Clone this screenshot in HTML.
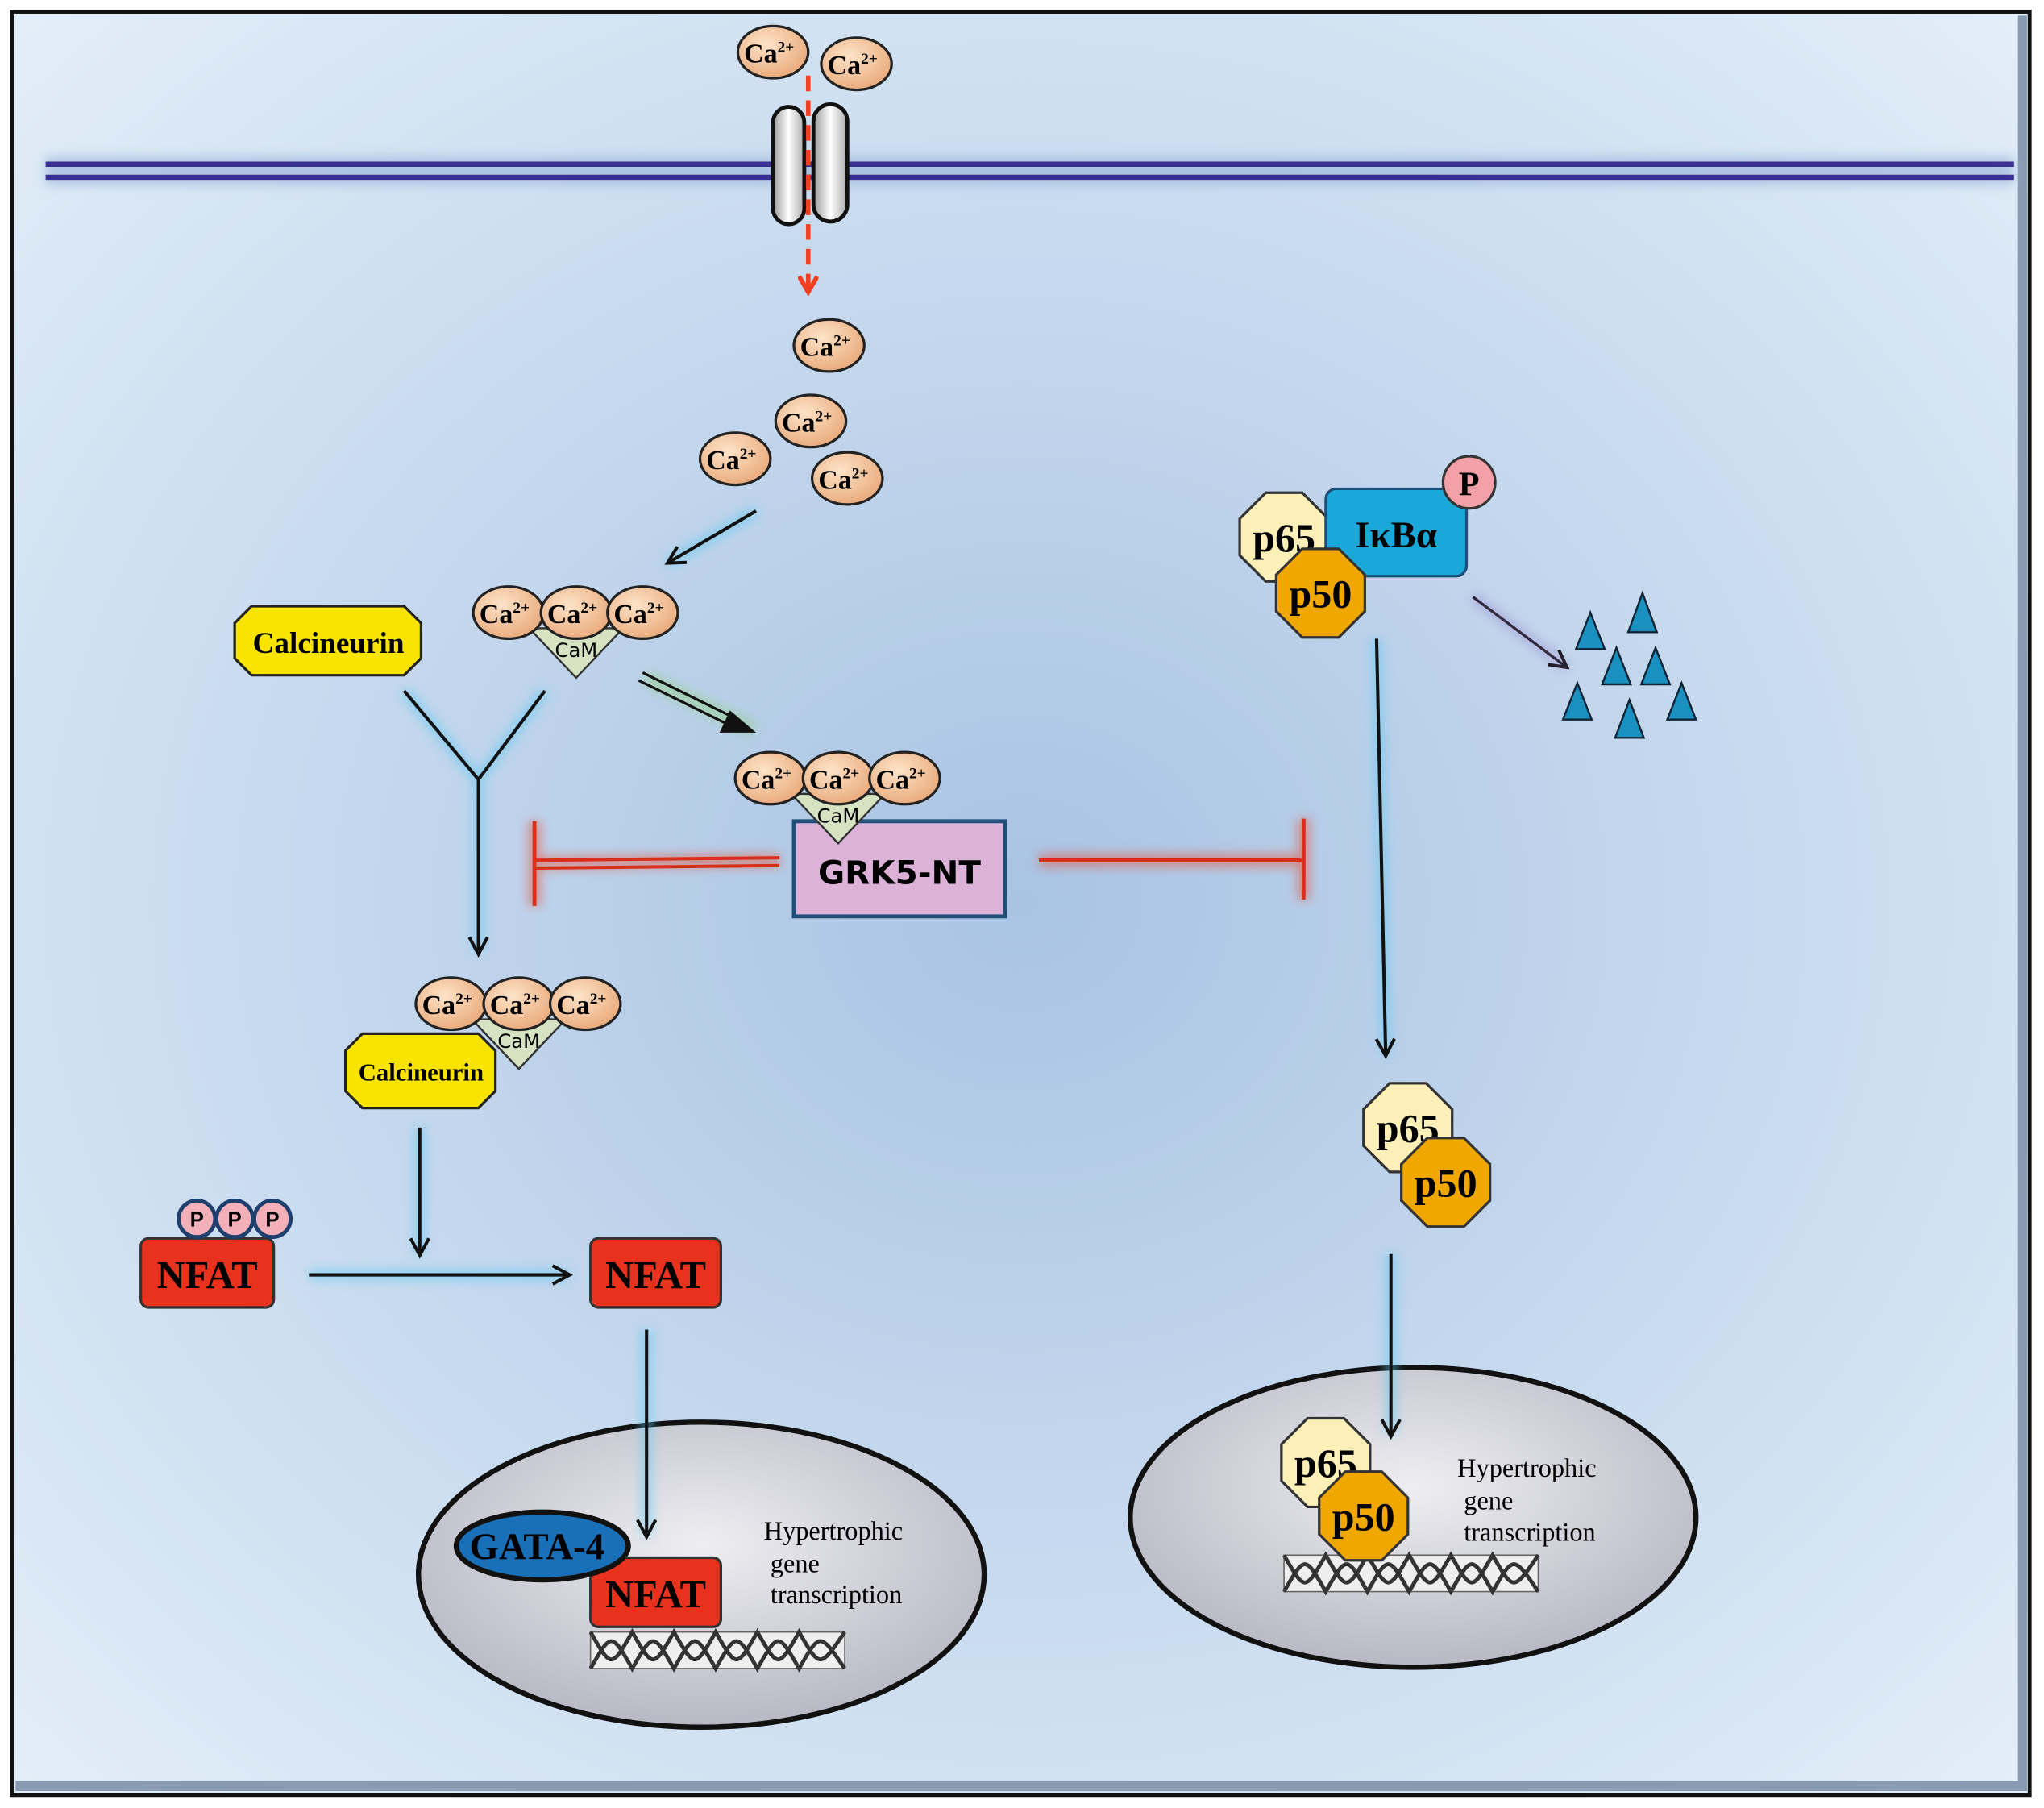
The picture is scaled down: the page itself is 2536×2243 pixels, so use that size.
<!DOCTYPE html>
<html><head><meta charset="utf-8"><style>html,body{margin:0;padding:0;background:#fff}svg{display:block}</style></head><body>
<svg width="2536" height="2243" viewBox="0 0 1568 1387" preserveAspectRatio="none" xmlns="http://www.w3.org/2000/svg">
<defs>
<radialGradient id="bg" cx="0.5" cy="0.5" r="0.7"><stop offset="0" stop-color="#a9c3e3"/><stop offset="1" stop-color="#e2eef8"/></radialGradient>
<radialGradient id="ca" cx="0.4" cy="0.35" r="0.7"><stop offset="0" stop-color="#fde3c8"/><stop offset="1" stop-color="#e8a878"/></radialGradient>
<radialGradient id="nuc" cx="0.5" cy="0.4" r="0.6"><stop offset="0" stop-color="#eeeef2"/><stop offset="1" stop-color="#b8b8c4"/></radialGradient>
<linearGradient id="cap" x1="0" x2="1"><stop offset="0" stop-color="#999"/><stop offset="0.5" stop-color="#fff"/><stop offset="1" stop-color="#aaa"/></linearGradient>
<filter id="glow" x="-50%" y="-50%" width="200%" height="200%"><feGaussianBlur stdDeviation="4"/></filter>
<marker id="ah" markerWidth="20" markerHeight="20" refX="14" refY="8" orient="auto" markerUnits="userSpaceOnUse"><path d="M1,1 L14,8 L1,15" fill="none" stroke="#111" stroke-width="2.5"/></marker>
<marker id="ahr" markerWidth="16" markerHeight="16" refX="13" refY="8" orient="auto" markerUnits="userSpaceOnUse"><path d="M1,1 L13,8 L1,15" fill="none" stroke="#f04020" stroke-width="3.5"/></marker>
<g id="ca1"><ellipse rx="27" ry="20" fill="url(#ca)" stroke="#222" stroke-width="2"/><text x="-3" y="8" text-anchor="middle" font-family="Liberation Serif" font-weight="bold" font-size="21">Ca<tspan font-size="12" dy="-8">2+</tspan></text></g>
<g id="cam"><path d="M-36,12 L36,12 L0,50 Z" fill="#d5e3c2" stroke="#333" stroke-width="1.5"/><text x="0" y="34" text-anchor="middle" font-family="DejaVu Sans" font-size="15">CaM</text><use href="#ca1" x="-52" y="0"/><use href="#ca1" x="0" y="0"/><use href="#ca1" x="51" y="0"/></g>
<g id="dna"><rect x="0" y="0" width="195" height="28" fill="#eee" stroke="#666"/><path d="M0,0 C16,28 16,28 32,0 C48,28 48,28 64,0 C80,28 80,28 96,0 C112,28 112,28 128,0 C144,28 144,28 160,0 C176,28 176,28 195,0 M0,28 C16,0 16,0 32,28 C48,0 48,0 64,28 C80,0 80,0 96,28 C112,0 112,0 128,28 C144,0 144,0 160,28 C176,0 176,0 195,28" fill="none" stroke="#333" stroke-width="3"/></g>
<g id="p65"><polygon points="-14,-34 14,-34 34,-14 34,14 14,34 -14,34 -34,14 -34,-14" fill="#fdefb8" stroke="#333" stroke-width="2"/><text x="0" y="11" text-anchor="middle" font-family="Liberation Serif" font-weight="bold" font-size="31">p65</text></g>
<g id="p50"><polygon points="-14,-34 14,-34 34,-14 34,14 14,34 -14,34 -34,14 -34,-14" fill="#f0a800" stroke="#333" stroke-width="2"/><text x="0" y="11" text-anchor="middle" font-family="Liberation Serif" font-weight="bold" font-size="31">p50</text></g>
</defs>
<rect x="0" y="0" width="1568" height="1387" fill="#fff"/>
<rect x="9" y="9" width="1548" height="1368" fill="url(#bg)" stroke="#111" stroke-width="3"/>
<rect x="1548" y="12" width="7" height="1362" fill="#8a9ab0"/>
<rect x="12" y="1366" width="1543" height="8" fill="#8a9ab0"/>
<!-- nuclei first -->
<ellipse cx="538" cy="1208" rx="217" ry="117" fill="url(#nuc)" stroke="#111" stroke-width="4"/>
<ellipse cx="1084" cy="1164" rx="217" ry="115" fill="url(#nuc)" stroke="#111" stroke-width="4"/>
<!-- membrane -->
<rect x="35" y="120" width="1510" height="22" fill="#9fb8dd" filter="url(#glow)" opacity="0.7"/>
<line x1="35" y1="126" x2="1545" y2="126" stroke="#3a2e8e" stroke-width="4"/>
<line x1="35" y1="136" x2="1545" y2="136" stroke="#3a2e8e" stroke-width="4"/>
<!-- channel -->
<rect x="593" y="82" width="24" height="90" rx="12" fill="url(#cap)" stroke="#111" stroke-width="3"/>
<rect x="624" y="80" width="26" height="90" rx="13" fill="url(#cap)" stroke="#111" stroke-width="3"/>
<line x1="620" y1="58" x2="620" y2="224" stroke="#f04020" stroke-width="3.5" stroke-dasharray="12,7" marker-end="url(#ahr)"/>
<use href="#ca1" x="593" y="40"/><use href="#ca1" x="657" y="49"/>
<use href="#ca1" x="636" y="265"/><use href="#ca1" x="622" y="323"/><use href="#ca1" x="564" y="352"/><use href="#ca1" x="650" y="367"/>
<!-- arrows with glow -->
<g stroke="#5bc8f0" stroke-width="9" opacity="0.5" filter="url(#glow)" fill="none">
<line x1="580" y1="392" x2="512" y2="432"/><line x1="310" y1="530" x2="367" y2="598"/><line x1="418" y1="530" x2="367" y2="598"/>
<line x1="367" y1="598" x2="367" y2="730"/><line x1="322" y1="865" x2="322" y2="962"/><line x1="237" y1="978" x2="436" y2="978"/>
<line x1="496" y1="1020" x2="496" y2="1178"/><line x1="1056" y1="490" x2="1063" y2="808"/><line x1="1067" y1="962" x2="1067" y2="1100"/>
</g>
<line x1="495" y1="520" x2="578" y2="560" stroke="#8fd080" stroke-width="12" opacity="0.5" filter="url(#glow)"/>
<g stroke="#111" stroke-width="2.5" fill="none">
<line x1="580" y1="392" x2="512" y2="432" marker-end="url(#ah)"/>
<line x1="310" y1="530" x2="367" y2="598"/><line x1="418" y1="530" x2="367" y2="598"/>
<line x1="367" y1="598" x2="367" y2="732" marker-end="url(#ah)"/>
<line x1="322" y1="865" x2="322" y2="963" marker-end="url(#ah)"/>
<line x1="237" y1="978" x2="437" y2="978" marker-end="url(#ah)"/>
<line x1="496" y1="1020" x2="496" y2="1179" marker-end="url(#ah)"/>
<line x1="1056" y1="490" x2="1063" y2="810" marker-end="url(#ah)"/>
<line x1="1067" y1="962" x2="1067" y2="1102" marker-end="url(#ah)"/>
<line x1="1130" y1="458" x2="1202" y2="512" stroke-width="2" marker-end="url(#ah)"/>
</g>
<line x1="1130" y1="458" x2="1202" y2="512" stroke="#9070c0" stroke-width="7" opacity="0.4" filter="url(#glow)"/>
<!-- double arrow -->
<g stroke="#111" stroke-width="2"><line x1="493" y1="516" x2="566" y2="552"/><line x1="490" y1="522" x2="563" y2="558"/></g>
<path d="M560,545 L580,562 L552,562 Z" fill="#111"/>
<!-- inhibitors -->
<g stroke="#f04020" stroke-width="10" opacity="0.45" filter="url(#glow)"><line x1="598" y1="660" x2="410" y2="662"/><line x1="410" y1="630" x2="410" y2="695"/><line x1="797" y1="660" x2="1000" y2="660"/><line x1="1000" y1="628" x2="1000" y2="690"/></g>
<g stroke="#d83018" stroke-width="2.5"><line x1="598" y1="658" x2="410" y2="660"/><line x1="598" y1="664" x2="410" y2="666"/><line x1="410" y1="630" x2="410" y2="695" stroke-width="3"/><line x1="797" y1="660" x2="1000" y2="660" stroke-width="3"/><line x1="1000" y1="628" x2="1000" y2="690" stroke-width="3"/></g>
<!-- calcineurin 1 -->
<polygon points="193,465 310,465 323,478 323,505 310,518 193,518 180,505 180,478" fill="#f8e400" stroke="#222" stroke-width="2"/>
<text x="252" y="501" text-anchor="middle" font-family="Liberation Serif" font-weight="bold" font-size="23">Calcineurin</text>
<use href="#cam" x="442" y="470"/>
<!-- GRK5 -->
<rect x="609" y="630" width="162" height="73" fill="#dcb2d8" stroke="#1f4e79" stroke-width="3"/>
<text x="690" y="678" text-anchor="middle" font-family="DejaVu Sans" font-weight="bold" font-size="25">GRK5-NT</text>
<use href="#cam" x="643" y="597"/>
<!-- calcineurin 2 -->
<polygon points="278,793 367,793 380,806 380,837 367,850 278,850 265,837 265,806" fill="#f8e400" stroke="#222" stroke-width="2"/>
<text x="323" y="829" text-anchor="middle" font-family="Liberation Serif" font-weight="bold" font-size="19">Calcineurin</text>
<use href="#cam" x="398" y="770"/>
<!-- NFAT -->
<g font-family="Liberation Serif" font-weight="bold" font-size="30" text-anchor="middle">
<rect x="108" y="950" width="102" height="53" rx="6" fill="#e8321e" stroke="#333" stroke-width="2"/><text x="159" y="988">NFAT</text>
<rect x="453" y="950" width="100" height="53" rx="6" fill="#e8321e" stroke="#333" stroke-width="2"/><text x="503" y="988">NFAT</text>
</g>
<g font-family="Liberation Sans" font-weight="bold" font-size="16" text-anchor="middle">
<circle cx="151" cy="935" r="14" fill="#f4b0b8" stroke="#1f3f6f" stroke-width="3"/><text x="151" y="941">P</text>
<circle cx="180" cy="935" r="14" fill="#f4b0b8" stroke="#1f3f6f" stroke-width="3"/><text x="180" y="941">P</text>
<circle cx="209" cy="935" r="14" fill="#f4b0b8" stroke="#1f3f6f" stroke-width="3"/><text x="209" y="941">P</text>
</g>
<!-- nucleus 1 contents -->
<use href="#dna" x="453" y="1252"/>
<rect x="453" y="1195" width="100" height="53" rx="6" fill="#e8321e" stroke="#333" stroke-width="2"/>
<text x="503" y="1233" text-anchor="middle" font-family="Liberation Serif" font-weight="bold" font-size="30">NFAT</text>
<ellipse cx="416" cy="1186" rx="66" ry="26" fill="#1a70b8" stroke="#111" stroke-width="4"/>
<text x="412" y="1196" text-anchor="middle" font-family="Liberation Serif" font-weight="bold" font-size="29">GATA-4</text>
<g font-family="Liberation Serif" font-size="20"><text x="586" y="1181">Hypertrophic</text><text x="591" y="1206">gene</text><text x="591" y="1230">transcription</text></g>
<!-- NF-kB complex -->
<use href="#p65" x="985" y="412"/>
<rect x="1017" y="375" width="108" height="67" rx="8" fill="#1aa8d8" stroke="#1f4e79" stroke-width="2"/>
<text x="1071" y="420" text-anchor="middle" font-family="Liberation Serif" font-weight="bold" font-size="29">IκBα</text>
<use href="#p50" x="1013" y="455"/>
<circle cx="1127" cy="370" r="20" fill="#f4a0a8" stroke="#333" stroke-width="2"/>
<text x="1127" y="380" text-anchor="middle" font-family="Liberation Serif" font-weight="bold" font-size="26">P</text>
<g fill="#1a90c0" stroke="#123" stroke-width="1.5">
<polygon points="1220,470 1231,498 1209,498"/><polygon points="1260,455 1271,485 1249,485"/><polygon points="1240,497 1251,525 1229,525"/><polygon points="1270,497 1281,525 1259,525"/><polygon points="1210,524 1221,552 1199,552"/><polygon points="1250,537 1261,566 1239,566"/><polygon points="1290,524 1301,552 1279,552"/>
</g>
<use href="#p65" x="1080" y="865"/><use href="#p50" x="1109" y="907"/>
<!-- nucleus 2 contents -->
<use href="#dna" x="985" y="1193"/>
<use href="#p65" x="1017" y="1122"/><use href="#p50" x="1046" y="1163"/>
<g font-family="Liberation Serif" font-size="20"><text x="1118" y="1133">Hypertrophic</text><text x="1123" y="1158">gene</text><text x="1123" y="1182">transcription</text></g>
</svg>
</body></html>
